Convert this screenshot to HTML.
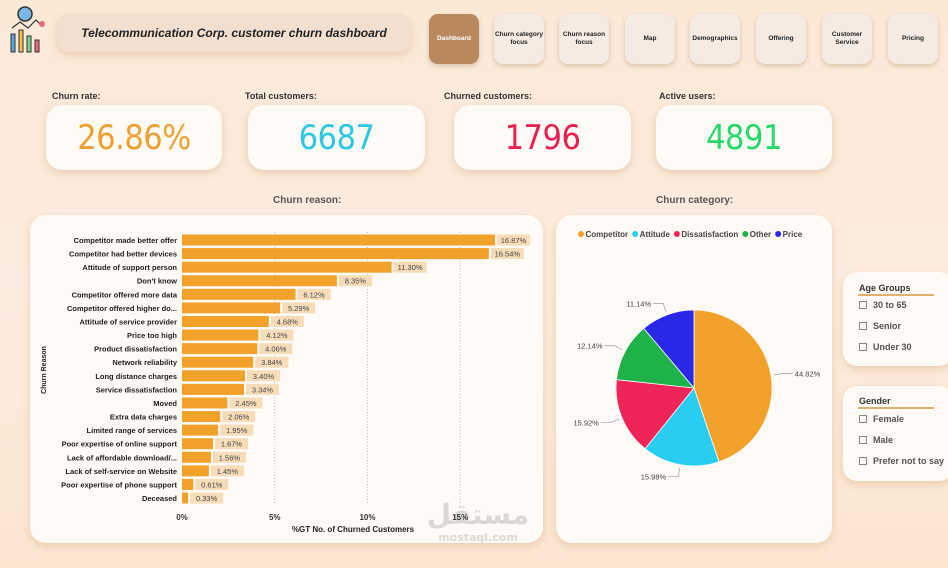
<!DOCTYPE html>
<html><head><meta charset="utf-8"><style>
*{box-sizing:border-box;margin:0;padding:0}
body{width:948px;height:568px;overflow:hidden;font-family:"Liberation Sans",sans-serif;background:linear-gradient(180deg,#fbe9d8 0%,#fcecdf 50%,#fbe6d2 100%);position:relative}
.card{position:absolute;background:#fefaf5;border-radius:16px;box-shadow:0 3px 8px rgba(200,150,100,.35)}
.nav{position:absolute;top:14px;width:50px;height:50px;border-radius:9px;background:#f6ebe2;box-shadow:0 2px 5px rgba(170,130,100,.4);font-size:6.5px;font-weight:bold;display:flex;align-items:center;justify-content:center;text-align:center;line-height:1.2;color:#222}
.lbl{position:absolute;top:91px;font-size:9px;font-weight:bold;color:#333}
.kpi{position:absolute;top:105px;height:65px;display:flex;align-items:center;justify-content:center;font-size:34px;font-family:"DejaVu Sans Condensed","DejaVu Sans",sans-serif;font-weight:normal;letter-spacing:-0.5px}
.ttl{position:absolute;top:195px;font-size:10px;font-weight:bold;color:#555}
.sl{position:absolute;font-size:9px;color:#555;font-weight:bold}
.cb{display:inline-block;width:8px;height:8px;border:1px solid #888;margin-right:6px;vertical-align:-1px}
</style></head><body>
<svg style="position:absolute;left:8px;top:4px" width="42" height="50" viewBox="0 0 42 50">
<circle cx="17" cy="10" r="7" fill="#7ab7e6" stroke="#333" stroke-width="1.5"/>
<rect x="3" y="30" width="4" height="18" fill="#5aa6e0" stroke="#333"/><rect x="11" y="26" width="4" height="22" fill="#f2c14e" stroke="#333"/><rect x="19" y="32" width="4" height="16" fill="#7bd389" stroke="#333"/><rect x="27" y="36" width="4" height="12" fill="#e86a7a" stroke="#333"/>
<polyline points="4,24 12,18 20,24 28,16 34,22" fill="none" stroke="#333" stroke-width="1.2"/><circle cx="34" cy="20" r="3" fill="#e86a7a"/>
</svg>
<div class="card" style="left:57px;top:14px;width:354px;height:38px;border-radius:12px;background:#f2dfd0;display:flex;align-items:center;justify-content:center;font-size:12px;font-style:italic;font-weight:bold;color:#222">Telecommunication Corp. customer churn dashboard</div>
<div class="nav" style="left:429px;background:#b8895e;color:#fff">Dashboard</div>
<div class="nav" style="left:494px">Churn category focus</div>
<div class="nav" style="left:559px">Churn reason focus</div>
<div class="nav" style="left:625px">Map</div>
<div class="nav" style="left:690px">Demographics</div>
<div class="nav" style="left:756px">Offering</div>
<div class="nav" style="left:822px">Customer Service</div>
<div class="nav" style="left:888px">Pricing</div>

<div class="lbl" style="left:52px">Churn rate:</div>
<div class="lbl" style="left:245px">Total customers:</div>
<div class="lbl" style="left:444px">Churned customers:</div>
<div class="lbl" style="left:659px">Active users:</div>
<div class="card kpi" style="left:46px;width:176px;color:#f0a030">26.86%</div>
<div class="card kpi" style="left:248px;width:177px;color:#2cc8e6">6687</div>
<div class="card kpi" style="left:454px;width:177px;color:#e8204f">1796</div>
<div class="card kpi" style="left:656px;width:176px;color:#27d96b">4891</div>

<div class="ttl" style="left:273px">Churn reason:</div>
<div class="ttl" style="left:656px">Churn category:</div>
<div class="card" style="left:30px;top:215px;width:513px;height:328px"></div>
<div class="card" style="left:556px;top:215px;width:276px;height:328px"></div>
<div style="position:absolute;left:418px;top:498px;width:120px;text-align:center;color:rgba(190,190,190,.55);font-family:'DejaVu Sans',sans-serif;font-weight:bold"><div style="font-size:28px;line-height:34px">مستقل</div><div style="font-size:11px;line-height:12px">mostaql.com</div></div>
<svg id="bar" style="position:absolute;left:0;top:0" width="948" height="568"></svg>

<div class="card" style="left:843px;top:272px;width:110px;height:94px;border-radius:14px"></div>
<div class="sl" style="left:859px;top:283px;color:#333">Age Groups</div>
<div style="position:absolute;left:858px;top:294px;width:76px;height:1.5px;background:#e0b070"></div>
<div class="sl" style="left:859px;top:300px"><span class="cb"></span>30 to 65</div>
<div class="sl" style="left:859px;top:321px"><span class="cb"></span>Senior</div>
<div class="sl" style="left:859px;top:342px"><span class="cb"></span>Under 30</div>
<div class="card" style="left:843px;top:386px;width:110px;height:95px;border-radius:14px"></div>
<div class="sl" style="left:859px;top:396px;color:#333">Gender</div>
<div style="position:absolute;left:858px;top:407px;width:76px;height:1.5px;background:#e0b070"></div>
<div class="sl" style="left:859px;top:414px"><span class="cb"></span>Female</div>
<div class="sl" style="left:859px;top:435px"><span class="cb"></span>Male</div>
<div class="sl" style="left:859px;top:456px"><span class="cb"></span>Prefer not to say</div>
<script>
const reasons=["Competitor made better offer","Competitor had better devices","Attitude of support person","Don't know","Competitor offered more data","Competitor offered higher do...","Attitude of service provider","Price too high","Product dissatisfaction","Network reliability","Long distance charges","Service dissatisfaction","Moved","Extra data charges","Limited range of services","Poor expertise of online support","Lack of affordable download/...","Lack of self-service on Website","Poor expertise of phone support","Deceased"];
const values=[16.87,16.54,11.30,8.35,6.12,5.29,4.68,4.12,4.06,3.84,3.40,3.34,2.45,2.06,1.95,1.67,1.56,1.45,0.61,0.33];
const xTicks=[0,5,10,15];
const cats=["Competitor","Attitude","Dissatisfaction","Other","Price"];
const shares=[44.82,15.98,15.92,12.14,11.14];
const colors=["#f2a12a","#28cdf0","#ef2458","#1fb24a","#2a28e6"];
const NS="http://www.w3.org/2000/svg",svg=document.getElementById('bar');
function mk(t,a,txt){const e=document.createElementNS(NS,t);for(const k in a)e.setAttribute(k,a[k]);if(txt!=null)e.textContent=txt;svg.appendChild(e);return e;}
const x=v=>182+v*18.55, y=i=>240+i*13.58;
xTicks.forEach(t=>{
 if(t>0){const g=mk('line',{x1:x(t),x2:x(t),y1:232,y2:505,stroke:'#bbb','stroke-dasharray':'1,2'});
 }
 const l=mk('text',{x:x(t),y:520,'font-size':8,'font-weight':'bold','text-anchor':'middle',fill:'#333'},t+'%');
 
});
reasons.forEach((r,i)=>{
 const yc=y(i);
 const lb=mk('text',{x:177,y:yc+3,'font-size':7.5,'font-weight':'bold','text-anchor':'end',fill:'#222'},r);
 
 const b=mk('rect',{x:182,y:yc-5.5,width:x(values[i])-182,height:11,fill:'#f2a12a'});
 
 const bg=mk('rect',{x:x(values[i])+2,y:yc-5.5,width:33,height:11,fill:'#f6dcb8'});
 
 const v=mk('text',{x:x(values[i])+18.5,y:yc+3,'font-size':7.5,'text-anchor':'middle',fill:'#444'},values[i].toFixed(2)+'%');
 
});
const yt=mk('text',{transform:'translate(46,370) rotate(-90)','font-size':7,'font-weight':'bold','text-anchor':'middle',fill:'#222'},'Churn Reason');

const xt=mk('text',{x:353,y:532,'font-size':8,'font-weight':'bold','text-anchor':'middle',fill:'#222'},'%GT No. of Churned Customers');

let lx=578;
cats.forEach((c,i)=>{
 const d=mk('circle',{cx:lx+3,cy:234,r:3,fill:colors[i]});
 const t=mk('text',{x:lx+7.5,y:237,'font-size':8,'font-weight':'bold',fill:'#444'},c);
 
 lx+=7.5+t.getComputedTextLength()+4;
});
const cx=694,cy=388,R=78,tot=shares.reduce((a,b)=>a+b,0);
let a0=-Math.PI/2;
shares.forEach((s,i)=>{
 const a1=a0+s/tot*2*Math.PI,big=(a1-a0)>Math.PI?1:0;
 const p=mk('path',{d:`M${cx},${cy} L${cx+R*Math.cos(a0)},${cy+R*Math.sin(a0)} A${R},${R} 0 ${big} 1 ${cx+R*Math.cos(a1)},${cy+R*Math.sin(a1)} Z`,fill:colors[i],stroke:'#fff','stroke-width':0.8});
 
 const am=(a0+a1)/2,ex=Math.cos(am),ey=Math.sin(am);
 const x1=cx+(R+3)*ex,y1=cy+(R+3)*ey,x2=cx+(R+12)*ex,y2=cy+(R+12)*ey,x3=x2+(ex>0?10:-10);
 const ln=mk('polyline',{points:`${x1},${y1} ${x2},${y2} ${x3},${y2}`,fill:'none',stroke:'#aaa','stroke-width':0.8});
 
 const t=mk('text',{x:x3+(ex>0?2:-2),y:y2+3,'font-size':7.5,fill:'#444','text-anchor':ex>0?'start':'end'},s.toFixed(2)+'%');
 
 a0=a1;
});
</script>
</body></html>
